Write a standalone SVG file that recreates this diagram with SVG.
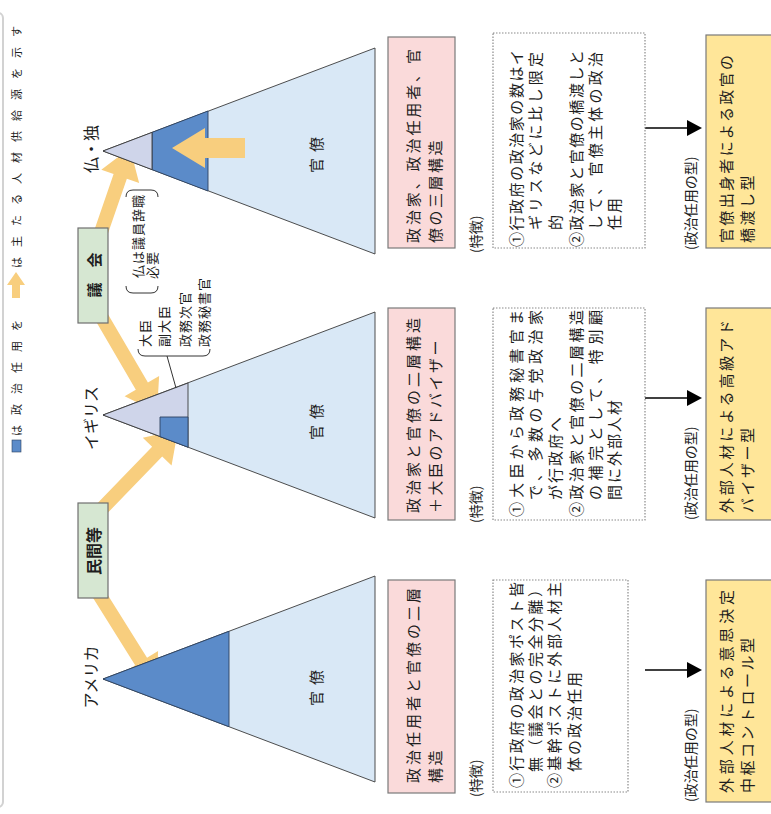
<svg xmlns="http://www.w3.org/2000/svg" width="771" height="814" viewBox="0 0 771 814">
<style>
.t{font-family:"Noto Sans CJK JP","Noto Sans CJK SC",sans-serif;dominant-baseline:central;fill:#1e1e1e}
.f15{font-size:15px}
.f13{font-size:13px}
.f14{font-size:14px}
.f16{font-size:16px}
.tri{fill:#D9E8F6;stroke:#3a3a3a;stroke-width:0.9}
.lav{fill:#CFD5EA;stroke:#3a3a3a;stroke-width:0.9}
.dk{fill:#5B8BC9;stroke:#2c4260;stroke-width:0.9}
.ya{fill:#F8CE7E}
.pink{fill:#FADADA;stroke:#7a7a7a;stroke-width:1.2}
.dot{fill:#fff;stroke:#8a8a8a;stroke-width:1.2;stroke-dasharray:1.5 1.5}
.yel{fill:#FFE699;stroke:#7a7a7a;stroke-width:1.2}
.grn{fill:#D6E7D2;stroke:#6f6f6f;stroke-width:1.2}
.br{fill:none;stroke:#333;stroke-width:1}
</style>
<rect x="-8" y="13" width="11" height="794" rx="5" fill="#fff" stroke="#d2d2d2" stroke-width="2"/>

<g id="legend">
<rect x="12" y="440" width="9" height="12" fill="#5B8BC9" stroke="#2c4260" stroke-width="0.6"/>
<text class="t" font-size="11" letter-spacing="10" transform="translate(16,436) rotate(-90)">は政治任用を</text>
<polygon class="ya" points="16,272 25,285 20,285 20,298 12,298 12,285 7,285"/>
<text class="t" font-size="11" letter-spacing="10" transform="translate(16,268) rotate(-90)">は主たる人材供給源を示す</text>
</g>

<g id="connectors">
<polygon class="ya" transform="translate(130,148) rotate(-71)" points="0,0 -30,-20 -30,-7 -100,-7 -100,7 -30,7 -30,20"/>
<polygon class="ya" transform="translate(157,412) rotate(59.7)" points="0,0 -30,-20 -30,-7 -110,-7 -110,7 -30,7 -30,20"/>
<polygon class="ya" transform="translate(178,430) rotate(-46)" points="0,0 -30,-20 -30,-7 -115,-7 -115,7 -30,7 -30,20"/>
<polygon class="ya" transform="translate(157,687) rotate(58)" points="0,0 -30,-20 -30,-7 -110,-7 -110,7 -30,7 -30,20"/>
<g stroke="#000" stroke-width="1.5">
<line x1="645" y1="128" x2="690" y2="128"/>
<line x1="645" y1="398" x2="690" y2="398"/>
<line x1="645" y1="670" x2="690" y2="670"/>
</g>
<polygon points="702,128 687,120 687,136" fill="#000"/>
<polygon points="702,398 687,390 687,406" fill="#000"/>
<polygon points="702,670 687,662 687,678" fill="#000"/>
</g>

<g id="pyramid-fr-de">
<polygon class="tri" points="103,151 375,48 375,254"/>
<polygon class="dk" points="152,132.4 208,111 208,191 152,169.6"/>
<polygon class="lav" points="103,151 152,132.4 152,169.6"/>
<polygon class="ya" points="172,148 205,128 205,138 245,138 245,158 205,158 205,168"/>
<text class="t f15" letter-spacing="6" text-anchor="middle" transform="translate(315,152) rotate(-90)">官僚</text>
<text class="t f16" text-anchor="middle" transform="translate(90,149) rotate(-90)">仏・独</text>
</g>

<g id="pyramid-uk">
<polygon class="tri" points="103,415 375,312 375,518"/>
<polygon class="lav" points="103,415 188,383 188,447"/>
<polygon class="dk" points="160,417 188,417 188,447.2 160,436.6"/>
<text class="t f15" letter-spacing="6" text-anchor="middle" transform="translate(315,419) rotate(-90)">官僚</text>
<text class="t f16" text-anchor="middle" transform="translate(90,418) rotate(-90)">イギリス</text>
</g>

<g id="pyramid-us">
<polygon class="tri" points="103,679 375,576 375,782"/>
<polygon class="dk" points="103,679 229,631.3 229,726.7"/>
<text class="t f15" letter-spacing="6" text-anchor="middle" transform="translate(315,685) rotate(-90)">官僚</text>
<text class="t f16" text-anchor="middle" transform="translate(90,677) rotate(-90)">アメリカ</text>
</g>

<g id="callout-ministers">
<path class="br" d="M138,349 Q138,356 145,356 L203,356 Q210,356 210,349"/>
<line class="br" x1="167" y1="356" x2="176" y2="388"/>
<text class="t f13" letter-spacing="1" transform="translate(144,347) rotate(-90)">大臣</text>
<text class="t f13" letter-spacing="1" transform="translate(163,347) rotate(-90)">副大臣</text>
<text class="t f13" letter-spacing="1" transform="translate(184,347) rotate(-90)">政務次官</text>
<text class="t f13" letter-spacing="1" transform="translate(203,347) rotate(-90)">政務秘書官</text>
</g>

<g id="callout-fr">
<path class="br" d="M126,286 Q126,293 133,293 L151,293 Q158,293 158,286"/>
<path class="br" d="M126,197 Q126,190 133,190 L151,190 Q158,190 158,197"/>
<text class="t f13" letter-spacing="1" transform="translate(137.5,278) rotate(-90)">仏は議員辞職</text>
<text class="t f13" letter-spacing="1" transform="translate(151,279) rotate(-90)">必要</text>
</g>

<g id="source-parliament">
<rect class="grn" x="78" y="228" width="30" height="95"/>
<text class="t f15" text-anchor="middle" font-weight="bold" transform="translate(93,275) rotate(-90)">議　会</text>
</g>

<g id="source-private">
<rect class="grn" x="78" y="503" width="30" height="95"/>
<text class="t f16" text-anchor="middle" font-weight="bold" transform="translate(93,551) rotate(-90)">民間等</text>
</g>

<g id="structure-fr-de">
<rect class="pink" x="388" y="37" width="67" height="211"/>
<text class="t f15" textLength="194" lengthAdjust="spacing" transform="translate(412,243) rotate(-90)">政治家、政治任用者、官</text>
<text class="t f15" letter-spacing="2.5" transform="translate(434,243) rotate(-90)">僚の三層構造</text>
</g>
<g id="structure-uk">
<rect class="pink" x="388" y="308" width="67" height="212"/>
<text class="t f15" textLength="195" lengthAdjust="spacing" transform="translate(412,513) rotate(-90)">政治家と官僚の二層構造</text>
<text class="t f15" letter-spacing="2.5" transform="translate(434,513) rotate(-90)">＋大臣のアドバイザー</text>
</g>
<g id="structure-us">
<rect class="pink" x="388" y="580" width="67" height="213"/>
<text class="t f15" textLength="195" lengthAdjust="spacing" transform="translate(412,783) rotate(-90)">政治任用者と官僚の二層</text>
<text class="t f15" letter-spacing="2.5" transform="translate(434,783) rotate(-90)">構造</text>
</g>

<g id="features-fr-de">
<text class="t f14" transform="translate(475,253) rotate(-90)">(特徴)</text>
<rect class="dot" x="493" y="33" width="152" height="215"/>
<text class="t f15" textLength="197" lengthAdjust="spacing" transform="translate(515,247) rotate(-90)">①行政府の政治家の数はイ</text>
<text class="t f15" textLength="178" lengthAdjust="spacing" transform="translate(534,230) rotate(-90)">ギリスなどに比し限定</text>
<text class="t f15" transform="translate(554,230) rotate(-90)">的</text>
<text class="t f15" textLength="197" lengthAdjust="spacing" transform="translate(575,247) rotate(-90)">②政治家と官僚の橋渡しと</text>
<text class="t f15" textLength="178" lengthAdjust="spacing" transform="translate(594,230) rotate(-90)">して、官僚主体の政治</text>
<text class="t f15" letter-spacing="2" transform="translate(613,230) rotate(-90)">任用</text>
</g>
<g id="features-uk">
<text class="t f14" transform="translate(475,523) rotate(-90)">(特徴)</text>
<rect class="dot" x="493" y="308" width="152" height="212"/>
<text class="t f15" textLength="207" lengthAdjust="spacing" transform="translate(515,517) rotate(-90)">①大臣から政務秘書官ま</text>
<text class="t f15" textLength="190" lengthAdjust="spacing" transform="translate(534,500) rotate(-90)">で、多数の与党政治家</text>
<text class="t f15" letter-spacing="2" transform="translate(554,500) rotate(-90)">が行政府へ</text>
<text class="t f15" textLength="207" lengthAdjust="spacing" transform="translate(575,517) rotate(-90)">②政治家と官僚の二層構造</text>
<text class="t f15" textLength="190" lengthAdjust="spacing" transform="translate(594,500) rotate(-90)">の補完として、特別顧</text>
<text class="t f15" letter-spacing="2" transform="translate(613,500) rotate(-90)">問に外部人材</text>
</g>
<g id="features-us">
<text class="t f14" transform="translate(475,797) rotate(-90)">(特徴)</text>
<rect class="dot" x="493" y="580" width="135" height="212"/>
<text class="t f15" textLength="206" lengthAdjust="spacing" transform="translate(515,788) rotate(-90)">①行政府の政治家ポスト皆</text>
<text class="t f15" textLength="190" lengthAdjust="spacing" transform="translate(534,772) rotate(-90)">無（議会との完全分離）</text>
<text class="t f15" textLength="206" lengthAdjust="spacing" transform="translate(553,788) rotate(-90)">②基幹ポストに外部人材主</text>
<text class="t f15" letter-spacing="2" transform="translate(573,772) rotate(-90)">体の政治任用</text>
</g>

<g id="type-fr-de">
<text class="t f14" transform="translate(690,250) rotate(-90)">(政治任用の型)</text>
<rect class="yel" x="706" y="35" width="72" height="213"/>
<text class="t f15" textLength="188" lengthAdjust="spacing" transform="translate(725,243) rotate(-90)">官僚出身者による政官の</text>
<text class="t f15" letter-spacing="2.5" transform="translate(746,243) rotate(-90)">橋渡し型</text>
</g>
<g id="type-uk">
<text class="t f14" transform="translate(690,520) rotate(-90)">(政治任用の型)</text>
<rect class="yel" x="706" y="308" width="72" height="212"/>
<text class="t f15" textLength="193" lengthAdjust="spacing" transform="translate(725,513) rotate(-90)">外部人材による高級アド</text>
<text class="t f15" letter-spacing="2.5" transform="translate(746,513) rotate(-90)">バイザー型</text>
</g>
<g id="type-us">
<text class="t f14" transform="translate(690,802) rotate(-90)">(政治任用の型)</text>
<rect class="yel" x="706" y="580" width="72" height="222"/>
<text class="t f15" textLength="203" lengthAdjust="spacing" transform="translate(725,793) rotate(-90)">外部人材による意思決定</text>
<text class="t f15" letter-spacing="2.5" transform="translate(746,793) rotate(-90)">中枢コントロール型</text>
</g>
</svg>
